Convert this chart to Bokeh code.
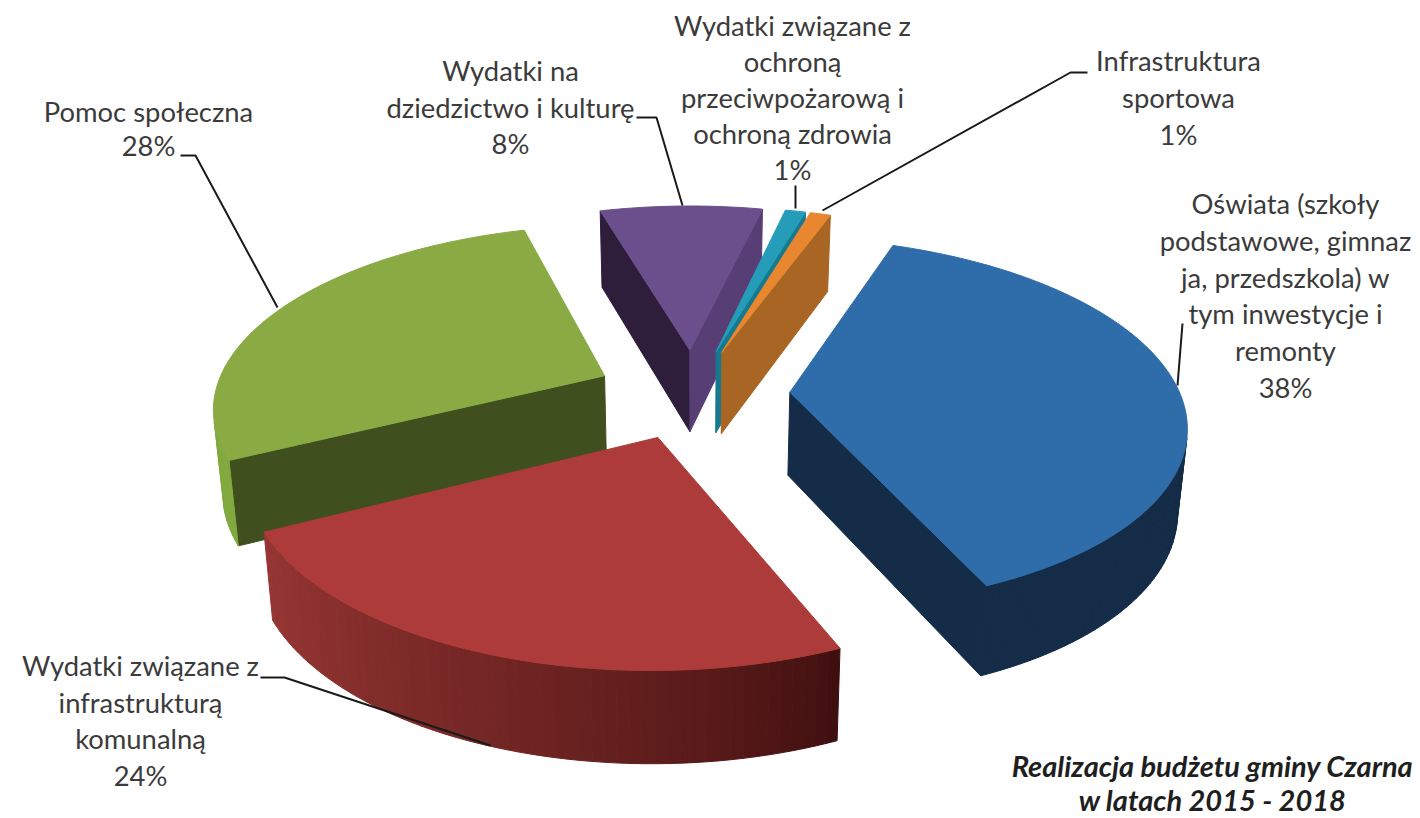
import math
from bokeh.plotting import figure
from bokeh.models import Range1d, ColumnDataSource
from bokeh.core.properties import value
from bokeh.embed import file_html
from bokeh.resources import INLINE

# ---- data ----
categories = [
    "Oświata (szkoły podstawowe, gimnazja, przedszkola) w tym inwestycje i remonty",
    "Wydatki związane z infrastrukturą komunalną",
    "Pomoc społeczna",
    "Wydatki na dziedzictwo i kulturę",
    "Wydatki związane z ochroną przeciwpożarową i ochroną zdrowia",
    "Infrastruktura sportowa",
]
shares = [38, 24, 28, 8, 1, 1]

label_lines = [
    ["Oświata (szkoły", "podstawowe, gimnaz", "ja, przedszkola) w", "tym inwestycje i", "remonty", "38%"],
    ["Wydatki związane z", "infrastrukturą", "komunalną", "24%"],
    ["Pomoc społeczna", "28%"],
    ["Wydatki na", "dziedzictwo i kulturę", "8%"],
    ["Wydatki związane z", "ochroną", "przeciwpożarową i", "ochroną zdrowia", "1%"],
    ["Infrastruktura", "sportowa", "1%"],
]
title_lines = ["Realizacja budżetu gminy Czarna", "w latach 2015 - 2018"]

# ---- styling per slice: top, wall at slice start, wall at slice end, rim start, rim end ----
colors = [
    ("#2E6DA9", "#142C47", "#142C47", "#142C47", "#142C47"),
    ("#AC3B3A", "#45100F", "#8A2F2D", "#3F0F0F", "#963633"),
    ("#8AAB44", "#3F4F1E", "#3F4F1E", "#82A93F", "#82A93F"),
    ("#6B4F8C", "#2E1E3C", "#573E74", "#4a3560", "#4a3560"),
    ("#259DB8", "#17798F", "#17798F", "#17798F", "#17798F"),
    ("#E8872F", "#A86524", "#A86524", "#A86524", "#A86524"),
]
draw_order = [3, 4, 5, 2, 0, 1]

# ---- projection of the tilted pie ----
CX, CY = 692.0, 393.0
FX, FY = 390.0, 180.0
PERSP = 0.16
EXPLODE = 0.25
DEPTH = 83.0
BOTTOM_SHRINK = 0.98
START_ANGLE = 20.0


def project(u, v):
    s = 1.0 / (1.0 + PERSP * v)
    return CX + FX * u * s, CY - FY * v * s, s


def top_point(u, v):
    x, y, _ = project(u, v)
    return x, y


def bottom_point(u, v):
    x, y, s = project(u, v)
    return CX + (x - CX) * BOTTOM_SHRINK, y + DEPTH * (0.5 + 0.5 * s)


def area(pts):
    return 0.5 * sum(pts[i][0] * pts[(i + 1) % len(pts)][1] - pts[(i + 1) % len(pts)][0] * pts[i][1]
                     for i in range(len(pts)))


def mix(a, b, t):
    ca = [int(a[i:i + 2], 16) for i in (1, 3, 5)]
    cb = [int(b[i:i + 2], 16) for i in (1, 3, 5)]
    return "#%02x%02x%02x" % tuple(round(p + (q - p) * t) for p, q in zip(ca, cb))


total = sum(shares)
starts = []
acc = START_ANGLE
for s_ in shares:
    starts.append(acc)
    acc += 360.0 * s_ / total

xs, ys, fills = [], [], []


def add(poly, color):
    xs.append([q[0] for q in poly])
    ys.append([q[1] for q in poly])
    fills.append(color)


for i in draw_order:
    a0 = starts[i]
    sweep = 360.0 * shares[i] / total
    mid = math.radians(a0 + sweep / 2)
    ou, ov = EXPLODE * math.sin(mid), EXPLODE * math.cos(mid)
    n = max(3, int(sweep / 1.5))
    ground = [(ou, ov)]
    for k in range(n + 1):
        t = math.radians(a0 + sweep * k / n)
        ground.append((ou + math.sin(t), ov + math.cos(t)))
    top = [top_point(*g) for g in ground]
    bot = [bottom_point(*g) for g in ground]
    orient = area(top)
    top_c, wall0_c, wall1_c, rim0_c, rim1_c = colors[i]
    m = len(ground)
    for k in range(m):
        j = (k + 1) % m
        quad = [top[k], top[j], bot[j], bot[k]]
        if area(quad) * orient >= 0:
            continue
        if k == 0:
            c = wall0_c
        elif k == m - 1:
            c = wall1_c
        else:
            c = mix(rim0_c, rim1_c, ((k - 1) / max(1, n - 1)) ** 0.75)
        add(quad, c)
    add(top, top_c)

p = figure(width=1420, height=818, x_range=Range1d(0, 1420), y_range=Range1d(818, 0),
           toolbar_location=None, output_backend="svg", min_border=0,
           background_fill_color="white", border_fill_color="white")
p.axis.visible = False
p.grid.visible = False
p.outline_line_color = None

src = ColumnDataSource(dict(xs=xs, ys=ys, c=fills))
p.patches("xs", "ys", source=src, fill_color="c", line_color="c", line_width=1)

# ---- leader lines (layout) ----
leaders = [
    ([1177, 1182], [385, 323]),
    ([260, 284, 490], [677, 677, 745]),
    ([180, 195, 277], [155, 155, 307]),
    ([636, 656, 682], [117, 117, 205]),
    ([795, 795], [185, 208]),
    ([1087, 1070, 822], [72, 72, 210]),
]
p.multi_line([l[0] for l in leaders], [l[1] for l in leaders], line_color="#1a1a1a", line_width=2)

# ---- label text (layout) ----
label_cx = [1285, 140, 148, 510, 792, 1178]
label_y0 = [203, 665, 111, 70, 25, 60]
label_gap = [36.8, 36.7, 34, 36.5, 36, 37]
FONT = "Lato"
for lines, cx, y0, gap in zip(label_lines, label_cx, label_y0, label_gap):
    p.text([cx] * len(lines), [y0 + gap * k for k in range(len(lines))], text=lines,
           text_font=value(FONT), text_font_size="27.4px", text_color="#3b3b3b",
           text_align="center", text_baseline="middle")
p.text([1212] * 2, [765, 799], text=title_lines, text_font=value(FONT), text_font_size="29px",
       text_font_style="bold italic", text_color="#1f1f1f", text_align="center", text_baseline="middle")

open("out.html", "w").write(file_html(p, INLINE))
